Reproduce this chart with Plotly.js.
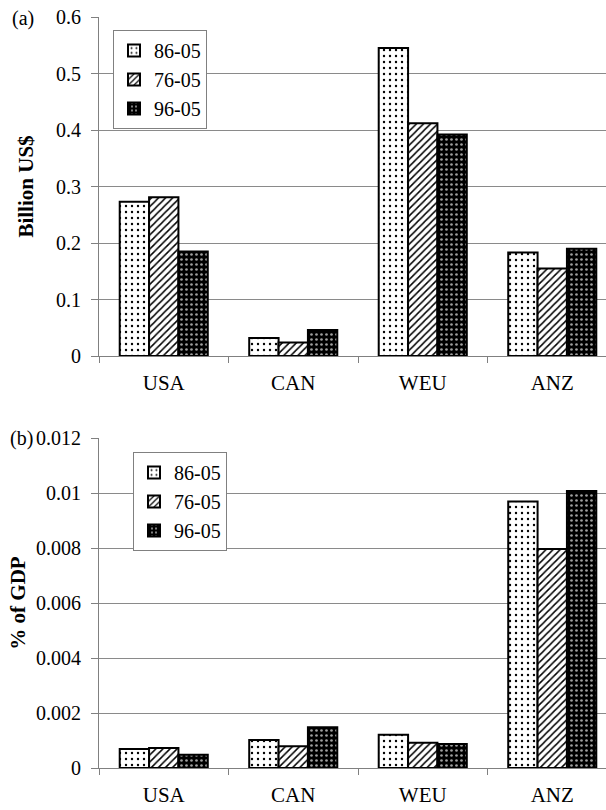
<!DOCTYPE html>
<html>
<head>
<meta charset="utf-8">
<script src="https://cdn.plot.ly/plotly-3.0.1.min.js"></script>
<style>html,body{margin:0;padding:0;background:#fff;}#chart{width:606px;height:810px;}</style>
</head>
<body>
<div id="chart"></div>
<script>
const categories = ['USA', 'CAN', 'WEU', 'ANZ'];
const seriesNames = ['86-05', '76-05', '96-05'];

// Panel (a): Billion US$
const usd_86_05 = [0.273, 0.032, 0.545, 0.183];
const usd_76_05 = [0.281, 0.024, 0.412, 0.155];
const usd_96_05 = [0.185, 0.046, 0.392, 0.190];

// Panel (b): % of GDP
const gdp_86_05 = [0.00069, 0.00102, 0.00121, 0.00969];
const gdp_76_05 = [0.00073, 0.00079, 0.00092, 0.00796];
const gdp_96_05 = [0.00048, 0.00148, 0.00087, 0.01007];

const yTicksA = [0, 0.1, 0.2, 0.3, 0.4, 0.5, 0.6];
const yTickTextA = ['0', '0.1', '0.2', '0.3', '0.4', '0.5', '0.6'];
const yTicksB = [0, 0.002, 0.004, 0.006, 0.008, 0.01, 0.012];
const yTickTextB = ['0', '0.002', '0.004', '0.006', '0.008', '0.01', '0.012'];

const FONT = 'Times New Roman, Liberation Serif, serif';
const patterns = [
  {shape: '.', bgcolor: '#ffffff', fgcolor: '#000000', size: 6, solidity: 0.12},
  {shape: '/', bgcolor: '#ffffff', fgcolor: '#000000', size: 5, solidity: 0.3},
  {shape: '.', bgcolor: '#000000', fgcolor: '#a0a0a0', size: 5, solidity: 0.22}
];

const dataA = [usd_86_05, usd_76_05, usd_96_05];
const dataB = [gdp_86_05, gdp_76_05, gdp_96_05];

const traces = [];
dataA.forEach((vals, i) => {
  traces.push({
    type: 'bar', x: categories, y: vals, name: seriesNames[i],
    xaxis: 'x', yaxis: 'y', legend: 'legend',
    marker: {color: patterns[i].bgcolor, pattern: patterns[i], line: {color: '#000', width: 2}},
    hoverinfo: 'x+y+name'
  });
});
dataB.forEach((vals, i) => {
  traces.push({
    type: 'bar', x: categories, y: vals, name: seriesNames[i],
    xaxis: 'x2', yaxis: 'y2', legend: 'legend2',
    marker: {color: patterns[i].bgcolor, pattern: patterns[i], line: {color: '#000', width: 2}},
    hoverinfo: 'x+y+name'
  });
});

const W = 606, H = 810;
const xDom = [99 / W, 1];
const yDomA = [1 - 356 / H, 1 - 17 / H];
const yDomB = [1 - 768 / H, 1 - 438 / H];
const xRange = [-0.5, 3.415];

const xCommon = {
  type: 'category', range: xRange, domain: xDom,
  showline: true, linecolor: '#808080', linewidth: 1,
  ticks: 'outside', tickson: 'boundaries', ticklen: 6, tickcolor: '#808080',
  tickfont: {family: FONT, size: 21, color: '#000'},
  ticklabelstandoff: 8, showgrid: false, zeroline: false, fixedrange: true
};
const yCommon = {
  showline: true, linecolor: '#808080', linewidth: 1,
  ticks: 'outside', ticklen: 7, tickcolor: '#808080',
  tickfont: {family: FONT, size: 20, color: '#000'},
  ticklabelstandoff: 6,
  showgrid: true, gridcolor: '#8a8a8a', gridwidth: 1, zeroline: false, fixedrange: true
};

const layout = {
  width: W, height: H,
  margin: {l: 0, r: 0, t: 0, b: 0},
  paper_bgcolor: '#fff', plot_bgcolor: '#fff',
  font: {family: FONT, color: '#000'},
  barmode: 'group', bargap: 0.32, bargroupgap: 0,
  showlegend: true,
  xaxis: Object.assign({}, xCommon, {anchor: 'y'}),
  yaxis: Object.assign({}, yCommon, {
    anchor: 'x', domain: yDomA, range: [0, 0.6],
    tickvals: yTicksA, ticktext: yTickTextA,
    title: {text: 'Billion US$', font: {family: FONT, size: 21, color: '#000', weight: 'bold'}, standoff: 16}
  }),
  xaxis2: Object.assign({}, xCommon, {anchor: 'y2'}),
  yaxis2: Object.assign({}, yCommon, {
    anchor: 'x2', domain: yDomB, range: [0, 0.012],
    tickvals: yTicksB, ticktext: yTickTextB,
    title: {text: '% of GDP', font: {family: FONT, size: 21, color: '#000', weight: 'bold'}, standoff: 4}
  }),
  legend: {
    x: 113 / W, y: 1 - 30 / H, xanchor: 'left', yanchor: 'top',
    bgcolor: '#fff', bordercolor: '#808080', borderwidth: 1,
    font: {family: FONT, size: 20, color: '#000'}, itemwidth: 30, tracegroupgap: 0
  },
  legend2: {
    x: 133 / W, y: 1 - 452 / H, xanchor: 'left', yanchor: 'top',
    bgcolor: '#fff', bordercolor: '#808080', borderwidth: 1,
    font: {family: FONT, size: 20, color: '#000'}, itemwidth: 30, tracegroupgap: 0
  },
  annotations: [
    {text: '(a)', xref: 'paper', yref: 'paper', x: 10 / W, y: 1 - 18 / H, xanchor: 'left', yanchor: 'middle',
     showarrow: false, font: {family: FONT, size: 20, color: '#000'}},
    {text: '(b)', xref: 'paper', yref: 'paper', x: 8 / W, y: 1 - 438 / H, xanchor: 'left', yanchor: 'middle',
     showarrow: false, font: {family: FONT, size: 20, color: '#000'}}
  ]
};

Plotly.newPlot('chart', traces, layout, {displayModeBar: false});
</script>
</body>
</html>
